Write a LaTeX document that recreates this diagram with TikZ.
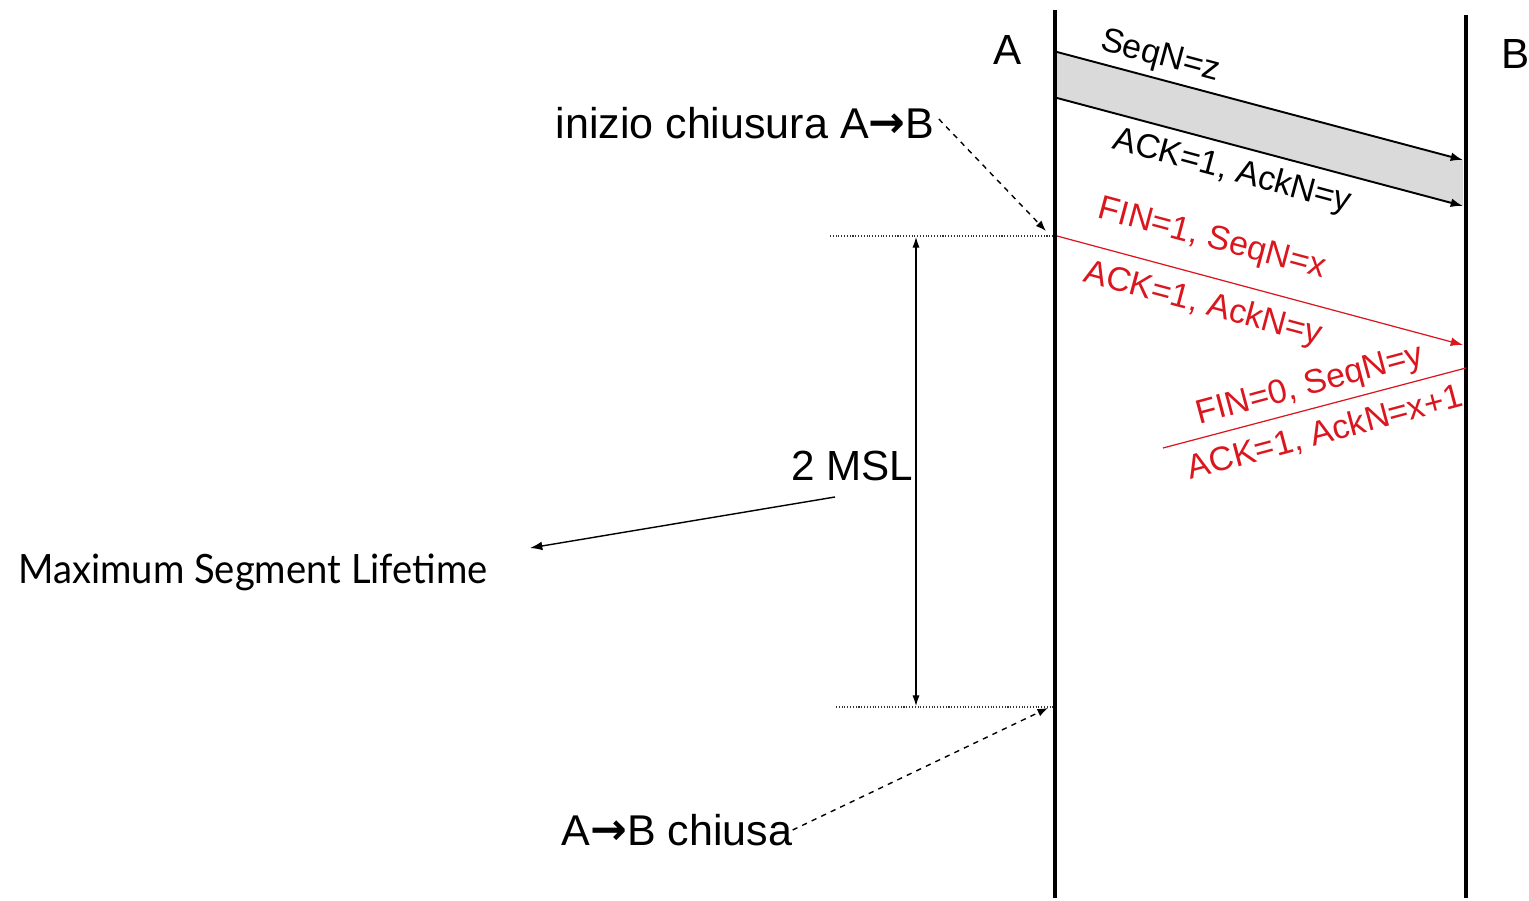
\documentclass[tikz,border=0pt]{standalone}
\usepackage{fontspec}
\setmainfont{Liberation Sans}
\newfontfamily\gillfont[FakeStretch=0.945]{Lato}
\newfontfamily\arrowfont{DejaVu Sans Bold}
\newcommand{\bigarrow}{{\arrowfont\fontsize{25}{29}\selectfont\raisebox{0.5pt}{→}}}
\usetikzlibrary{arrows.meta}
\definecolor{msgred}{RGB}{218,22,30}
\definecolor{bandgrey}{RGB}{218,218,218}
\begin{document}
\begin{tikzpicture}[x=0.02cm,y=-0.02cm,
  timeline/.style={line width=2.3pt,black},
  msg/.style={line width=1.1pt,-{Latex[length=7pt,width=5pt]}},
  redmsg/.style={line width=0.7pt,msgred},
  msglabel/.style={font=\fontsize{19.3}{22}\selectfont,inner sep=0pt},
  biglabel/.style={font=\fontsize{24.5}{29}\selectfont,inner sep=0pt},
  guide/.style={densely dotted,line width=0.6pt,black!80},
  pointer/.style={dashed,line width=0.8pt,-{Latex[length=6pt,width=4.5pt]}},
  span/.style={line width=0.6pt,{Latex[length=6pt,width=4pt]}-{Latex[length=6pt,width=4pt]}}]
\useasboundingbox (0,0) rectangle (1529,901);

% host timelines
\coordinate (Atop) at (1055,10);
\coordinate (Abot) at (1055,898);
\coordinate (Btop) at (1466,15);
\coordinate (Bbot) at (1466,898);
\draw[timeline] (Atop) -- (Abot);
\draw[timeline] (Btop) -- (Bbot);
\node[biglabel,font=\fontsize{24}{28}\selectfont] (labA) at (1008,50) {A};
\node[biglabel,font=\fontsize{24}{28}\selectfont] (labB) at (1516,54) {B};

% data segment still in flight (grey band)
\coordinate (d1s) at (1057,52);
\coordinate (d1e) at (1463,160);
\coordinate (d2s) at (1057,98);
\coordinate (d2e) at (1463,206);
\fill[bandgrey] (d1s) -- (d1e) -- (d2e) -- (d2s) -- cycle;
\draw[msg] (d1s) -- (d1e);
\draw[msg] (d2s) -- (d2e);
\node[msglabel,rotate=-15] (lseq) at (1160,57) {SeqN=z};
\node[msglabel,rotate=-15] (lack) at (1232,172) {ACK=1, AckN=y};

% FIN from A
\coordinate (f1s) at (1057,236);
\coordinate (f1e) at (1463,345);
\draw[redmsg,-{Latex[length=7pt,width=5pt]}] (f1s) -- (f1e);
\node[msglabel,text=msgred,rotate=-15] (lfin) at (1212,240) {FIN=1, SeqN=x};
\node[msglabel,text=msgred,rotate=-15] (lfinack) at (1203,305) {ACK=1, AckN=y};

% ACK from B
\coordinate (r1s) at (1466,368);
\coordinate (r1e) at (1163,448);
\draw[redmsg] (r1s) -- (r1e);
\node[msglabel,text=msgred,rotate=15] (lfin0) at (1310,386) {FIN=0, SeqN=y};
\node[msglabel,text=msgred,rotate=15] (lack1) at (1325,433) {ACK=1, AckN=x+1};

% 2 MSL timer
\coordinate (g1s) at (830,236);
\coordinate (g1e) at (1053,236);
\coordinate (g2s) at (836,707);
\coordinate (g2e) at (1053,707);
\draw[guide] (g1s) -- (g1e);
\draw[guide] (g2s) -- (g2e);
\coordinate (t1) at (916,237);
\coordinate (t2) at (916,706);
\draw[span] (t1) -- (t2);
\node[biglabel,font=\fontsize{24}{28}\selectfont] (msl) at (852,466) {2 MSL};
\node[inner sep=0pt,font=\gillfont\fontsize{23}{27}\selectfont,anchor=west] (msldef) at (18,572) {Maximum Segment Lifetime};
\coordinate (mslfrom) at (835,497);
\coordinate (mslto) at (530,548);
\draw[line width=0.8pt,-{Latex[length=7pt,width=5pt]}] (mslfrom) -- (mslto);

% annotations
\node[biglabel] (start) at (745,123) {inizio chiusura A\bigarrow B};
\coordinate (starttip) at (1046,231);
\draw[pointer] (start.east) ++(4,-4) -- (starttip);
\node[biglabel] (closed) at (677,830) {A\bigarrow B chiusa};
\coordinate (closedtip) at (1048,708);
\draw[pointer] (closed.east) -- (closedtip);
\end{tikzpicture}
\end{document}
